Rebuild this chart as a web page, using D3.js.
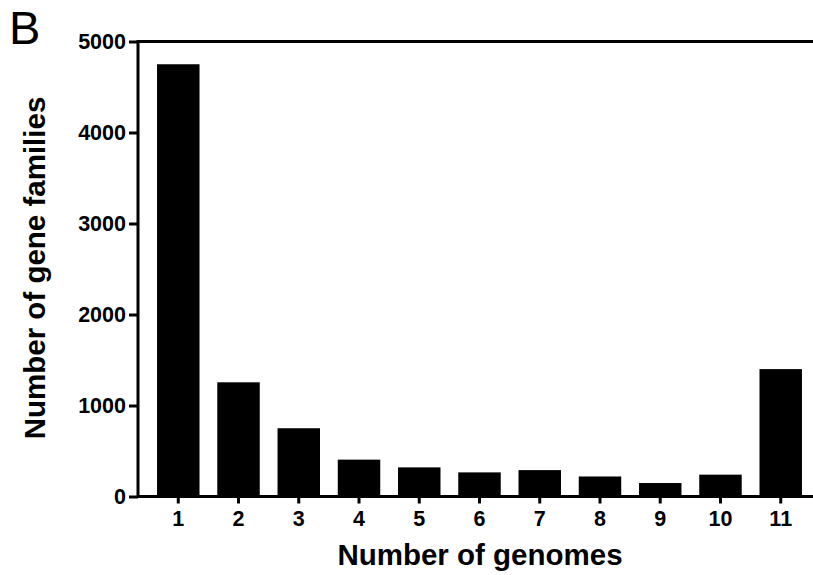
<!DOCTYPE html>
<html><head><meta charset="utf-8">
<script src="https://cdn.jsdelivr.net/npm/d3@7"></script>
<style>
html,body{margin:0;padding:0;background:#fff;}
svg{display:block;font-family:"Liberation Sans",Arial,Helvetica,sans-serif;}
</style></head>
<body>
<svg id="chart" width="813" height="575"></svg>
<script>
const categories = ["1","2","3","4","5","6","7","8","9","10","11"];
const values = [4750, 1255, 750, 405, 320, 265, 290, 220, 148, 240, 1400];
const yTicks = [0, 1000, 2000, 3000, 4000, 5000];
const xTitle = "Number of genomes";
const yTitle = "Number of gene families";
const panelLabel = "B";

const svg = d3.select("#chart");
const x0 = 138, xEnd = 813, yBase = 496.5, yTop = 41.5;

const x = d3.scaleBand().domain(categories).range([148, 811]).paddingInner(0.295).paddingOuter(0.15);
const y = d3.scaleLinear().domain([0, 5000]).range([yBase, yTop]);

// bars
svg.append("g").selectAll("rect").data(values).join("rect")
  .attr("x", (d,i) => x(categories[i]))
  .attr("y", d => y(d))
  .attr("width", x.bandwidth())
  .attr("height", d => yBase - y(d))
  .attr("fill", "#000");

// y axis
const yAxis = svg.append("g").attr("transform", `translate(${x0},0)`)
  .call(d3.axisLeft(y).tickValues(yTicks).tickFormat(d3.format("d")).tickSize(9).tickPadding(3));
yAxis.select(".domain").attr("d", `M0,${yTop}V${yBase}`).attr("stroke-width", 3);
yAxis.selectAll(".tick line").attr("stroke-width", 3);
yAxis.selectAll(".tick text").attr("font-size", 21.5).attr("font-weight", "bold")
  .attr("font-family", "'Liberation Sans',Arial,sans-serif").attr("fill", "#000");

// x axis
const xAxis = svg.append("g").attr("transform", `translate(0,${yBase})`)
  .call(d3.axisBottom(x).tickSize(7).tickPadding(7));
xAxis.select(".domain").attr("d", `M${x0},0H${xEnd}`).attr("stroke-width", 3);
xAxis.selectAll(".tick line").attr("stroke-width", 3);
xAxis.selectAll(".tick text").attr("font-size", 21.5).attr("font-weight", "bold")
  .attr("font-family", "'Liberation Sans',Arial,sans-serif").attr("fill", "#000");

// top frame line
svg.append("line").attr("x1", x0 - 1.5).attr("x2", xEnd).attr("y1", y(5000)).attr("y2", y(5000))
  .attr("stroke", "#000").attr("stroke-width", 3);

// titles
svg.append("text").attr("x", 480).attr("y", 565).attr("text-anchor", "middle")
  .attr("font-size", 29.5).attr("font-weight", "bold").text(xTitle);
svg.append("text").attr("transform", "translate(45,268) rotate(-90)").attr("text-anchor", "middle")
  .attr("font-size", 29.5).attr("font-weight", "bold").text(yTitle);
svg.append("text").attr("x", 9).attr("y", 44).attr("font-size", 47).text(panelLabel);
</script>
</body></html>
